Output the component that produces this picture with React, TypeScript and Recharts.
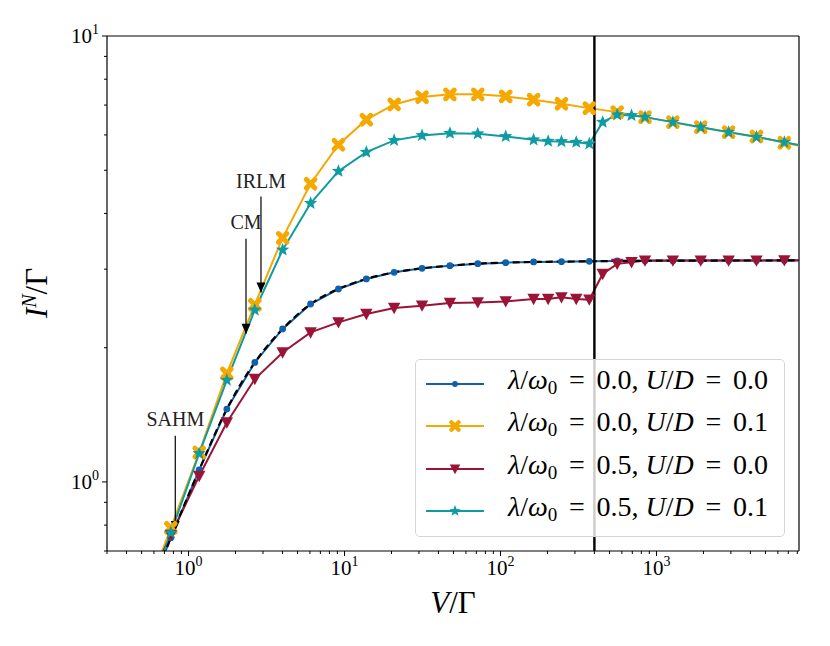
import React from 'react';
import { LineChart, Line, XAxis, YAxis, ReferenceLine, ReferenceDot, Legend } from 'recharts';

// Current I^N/Gamma vs bias V/Gamma (log-log)
const FONT = '"Liberation Serif", "DejaVu Serif", serif';

const V_MAIN = [0.51, 0.77, 1.17, 1.76, 2.66, 4.01, 6.06, 9.14, 13.8, 20.8, 31.4, 47.4, 71.5, 108, 163, 246, 371, 560, 844, 1274, 1922, 2901, 4377, 6605, 9970];
const V_DENSE = [0.51, 0.77, 1.17, 1.76, 2.66, 4.01, 6.06, 9.14, 13.8, 20.8, 31.4, 47.4, 71.5, 108, 163, 202, 246, 306, 371, 452, 560, 692, 844, 1274, 1922, 2901, 4377, 6605, 9970];

const I_L00_U00 = [0.52, 0.75, 1.064, 1.457, 1.853, 2.203, 2.506, 2.708, 2.852, 2.951, 3.013, 3.055, 3.087, 3.103, 3.114, 3.119, 3.124, 3.13, 3.133, 3.135, 3.136, 3.137, 3.137, 3.138, 3.138];
const I_L00_U01 = [0.535, 0.789, 1.164, 1.751, 2.497, 3.526, 4.662, 5.703, 6.492, 7.024, 7.295, 7.398, 7.398, 7.322, 7.198, 7.05, 6.891, 6.75, 6.578, 6.41, 6.246, 6.087, 5.953, 5.762, 5.6];
const I_L05_U00 = [0.56, 0.76, 1.031, 1.359, 1.701, 1.951, 2.164, 2.279, 2.38, 2.455, 2.485, 2.52, 2.527, 2.54, 2.572, 2.572, 2.594, 2.572, 2.563, 2.927, 3.083, 3.108, 3.136, 3.136, 3.136, 3.136, 3.136, 3.14, 3.14];
const I_L05_U01 = [0.51, 0.769, 1.158, 1.692, 2.43, 3.314, 4.217, 4.976, 5.49, 5.834, 5.984, 6.056, 6.037, 5.953, 5.852, 5.81, 5.8, 5.78, 5.733, 6.41, 6.66, 6.636, 6.578, 6.41, 6.246, 6.087, 5.933, 5.78, 5.62];

const X_TICKS = [0.3, 0.4, 0.5, 0.6, 0.7, 0.8, 0.9, 1, 2, 3, 4, 5, 6, 7, 8, 9, 10, 20, 30, 40, 50, 60, 70, 80, 90, 100, 200, 300, 400, 500, 600, 700, 800, 900, 1000, 2000, 3000, 4000, 5000, 6000, 7000, 8000];
const Y_TICKS = [0.7, 0.8, 0.9, 1, 2, 3, 4, 5, 6, 7, 8, 9, 10];
const MAJOR_EXP: Record<number, string> = { 1: '0', 10: '1', 100: '2', 1000: '3' };

const CROSSOVER_V = 400;

const ANNOTATIONS = [
  { label: 'SAHM', x: 0.822, yText: 1.336, yFrom: 1.269, yTip: 0.776 },
  { label: 'CM', x: 2.335, yText: 3.69, yFrom: 3.51, yTip: 2.15 },
  { label: 'IRLM', x: 2.913, yText: 4.57, yFrom: 4.365, yTip: 2.661 },
];

const zip = (xs: number[], ys: number[]) => xs.map((x, i) => ({ x, y: ys[i] }));

const SERIES = [
  { key: 'a', lam: '0.0', u: '0.0', color: '#1060AA', marker: 'circle', data: zip(V_MAIN, I_L00_U00) },
  { key: 'b', lam: '0.0', u: '0.1', color: '#F5A800', marker: 'x', data: zip(V_MAIN, I_L00_U01) },
  { key: 'c', lam: '0.5', u: '0.0', color: '#9B1437', marker: 'tri', data: zip(V_DENSE, I_L05_U00) },
  { key: 'd', lam: '0.5', u: '0.1', color: '#0E9CA2', marker: 'star', data: zip(V_DENSE, I_L05_U01) },
];

function Marker({ kind, cx, cy, color, s = 1 }: any) {
  if (cx == null || cy == null) return null;
  if (kind === 'circle') return <circle cx={cx} cy={cy} r={3.4 * s} fill={color} />;
  if (kind === 'x') {
    const a = 4.3 * s;
    return (
      <path
        d={`M${cx - a},${cy - a}L${cx + a},${cy + a}M${cx - a},${cy + a}L${cx + a},${cy - a}`}
        stroke={color}
        strokeWidth={5 * s}
        strokeLinecap="round"
      />
    );
  }
  if (kind === 'tri') {
    const w = 6.2 * s;
    return <polygon points={`${cx - w},${cy - 5.2 * s} ${cx + w},${cy - 5.2 * s} ${cx},${cy + 6.2 * s}`} fill={color} />;
  }
  const pts: string[] = [];
  for (let i = 0; i < 10; i++) {
    const ang = (-90 + 36 * i) * Math.PI / 180;
    const r = (i % 2 ? 3 : 7) * s;
    pts.push(`${cx + r * Math.cos(ang)},${cy + r * Math.sin(ang)}`);
  }
  return <polygon points={pts.join(' ')} fill={color} />;
}

const XTick = ({ x, y, payload }: any) => {
  const exp = MAJOR_EXP[payload.value];
  return (
    <g>
      <line x1={x} x2={x} y1={y} y2={y + (exp ? 5 : 3)} stroke="#000" strokeWidth={1} />
      {exp && (
        <text x={x} y={y + 24} textAnchor="middle" fontFamily={FONT} fontSize={21} fill="#000">
          10<tspan dy={-9} fontSize={14}>{exp}</tspan>
        </text>
      )}
    </g>
  );
};

const YTick = ({ x, y, payload }: any) => {
  const exp = MAJOR_EXP[payload.value];
  return (
    <g>
      <line x1={x} x2={x - (exp ? 5 : 3)} y1={y} y2={y} stroke="#000" strokeWidth={1} />
      {exp && (
        <text x={x - 8} y={y + 7} textAnchor="end" fontFamily={FONT} fontSize={21} fill="#000">
          10<tspan dy={-9} fontSize={14}>{exp}</tspan>
        </text>
      )}
    </g>
  );
};

const Eq = () => <span style={{ margin: '0 0.42em' }}>=</span>;

const LegendBox = () => (
  <div
    style={{
      width: 370,
      height: 178,
      boxSizing: 'border-box',
      border: '1px solid #d6d6d6',
      borderRadius: 5,
      background: 'rgba(255,255,255,0.8)',
      position: 'relative',
      fontFamily: FONT,
      fontSize: 28,
      color: '#000',
    }}
  >
    {SERIES.map((s, i) => (
      <div key={s.key} style={{ position: 'absolute', left: 0, top: 24 + i * 42.4 - 16, height: 32, display: 'flex', alignItems: 'center' }}>
        <svg width={80} height={32} style={{ display: 'block' }}>
          <line x1={10} x2={68} y1={16} y2={16} stroke={s.color} strokeWidth={2} />
          <Marker kind={s.marker} cx={39} cy={16} color={s.color} s={0.85} />
        </svg>
        <span style={{ marginLeft: 12, whiteSpace: 'nowrap', lineHeight: '32px' }}>
          <i>λ</i>/<i>ω</i><sub style={{ fontSize: 19, verticalAlign: '-5px' }}>0</sub>
          <Eq />
          {s.lam}, <i>U</i>/<i>D</i>
          <Eq />
          {s.u}
        </span>
      </div>
    ))}
  </div>
);

export default function App() {
  return (
    <div style={{ position: 'absolute', left: 0, top: 0, width: 830, height: 646, background: '#fff' }}>
      <LineChart width={830} height={646} margin={{ top: 36, right: 31, left: 0, bottom: 0 }}>
        <XAxis
          type="number"
          dataKey="x"
          scale="log"
          domain={[0.3, 8200]}
          allowDataOverflow
          ticks={X_TICKS}
          interval={0}
          tickSize={0}
          tickMargin={0}
          tick={<XTick />}
          height={95}
          axisLine={{ stroke: '#000', strokeWidth: 1.2 }}
          tickLine={false}
          label={{
            content: () => (
              <text x={453} y={613} textAnchor="middle" fontFamily={FONT} fontSize={31} fill="#000">
                <tspan fontStyle="italic">V</tspan>/Γ
              </text>
            ),
          }}
        />
        <YAxis
          type="number"
          dataKey="y"
          scale="log"
          domain={[0.7, 10]}
          allowDataOverflow
          ticks={Y_TICKS}
          interval={0}
          tickSize={0}
          tickMargin={0}
          tick={<YTick />}
          width={107}
          axisLine={{ stroke: '#000', strokeWidth: 1.2 }}
          tickLine={false}
          label={{
            content: () => (
              <text transform="translate(47,293) rotate(-90)" textAnchor="middle" fontFamily={FONT} fontSize={31} fill="#000">
                <tspan fontStyle="italic">I</tspan>
                <tspan dy={-11} fontSize={20} fontStyle="italic">N</tspan>
                <tspan dy={11}>/Γ</tspan>
              </text>
            ),
          }}
        />
        <ReferenceLine y={10} stroke="#000" strokeWidth={1.2} />
        <ReferenceLine x={8200} stroke="#000" strokeWidth={1.2} />
        {SERIES.map((s) => (
          <Line
            key={s.key}
            data={s.data}
            dataKey="y"
            name={s.key}
            type="linear"
            stroke={s.color}
            strokeWidth={2}
            isAnimationActive={false}
            dot={(p: any) => <Marker key={`${s.key}-${p.index}`} kind={s.marker} cx={p.cx} cy={p.cy} color={s.color} />}
            activeDot={false}
          />
        ))}
        <Line
          data={SERIES[0].data}
          dataKey="y"
          name="ref"
          type="monotone"
          stroke="#000"
          strokeWidth={2.2}
          strokeDasharray="7 4"
          dot={false}
          activeDot={false}
          isAnimationActive={false}
        />
        <ReferenceLine x={CROSSOVER_V} stroke="#000" strokeWidth={2.4} />
        {ANNOTATIONS.map((a) => (
          <ReferenceLine
            key={`s-${a.label}`}
            segment={[{ x: a.x, y: a.yFrom }, { x: a.x, y: a.yTip }]}
            stroke="#000"
            strokeWidth={1.2}
          />
        ))}
        {ANNOTATIONS.map((a) => (
          <ReferenceDot
            key={`h-${a.label}`}
            x={a.x}
            y={a.yTip}
            r={1}
            shape={(p: any) => (
              <polygon points={`${p.cx - 4.5},${p.cy - 10} ${p.cx + 4.5},${p.cy - 10} ${p.cx},${p.cy}`} fill="#000" />
            )}
          />
        ))}
        {ANNOTATIONS.map((a) => (
          <ReferenceDot
            key={`t-${a.label}`}
            x={a.x}
            y={a.yText}
            r={1}
            shape={(p: any) => (
              <text x={p.cx} y={p.cy} textAnchor="middle" fontFamily={FONT} fontSize={20} fill="#222">
                {a.label}
              </text>
            )}
          />
        ))}
        <Legend
          layout="vertical"
          align="center"
          verticalAlign="middle"
          content={<LegendBox />}
          wrapperStyle={{ left: 415, top: 359, width: 370, height: 178 }}
        />
      </LineChart>
    </div>
  );
}
